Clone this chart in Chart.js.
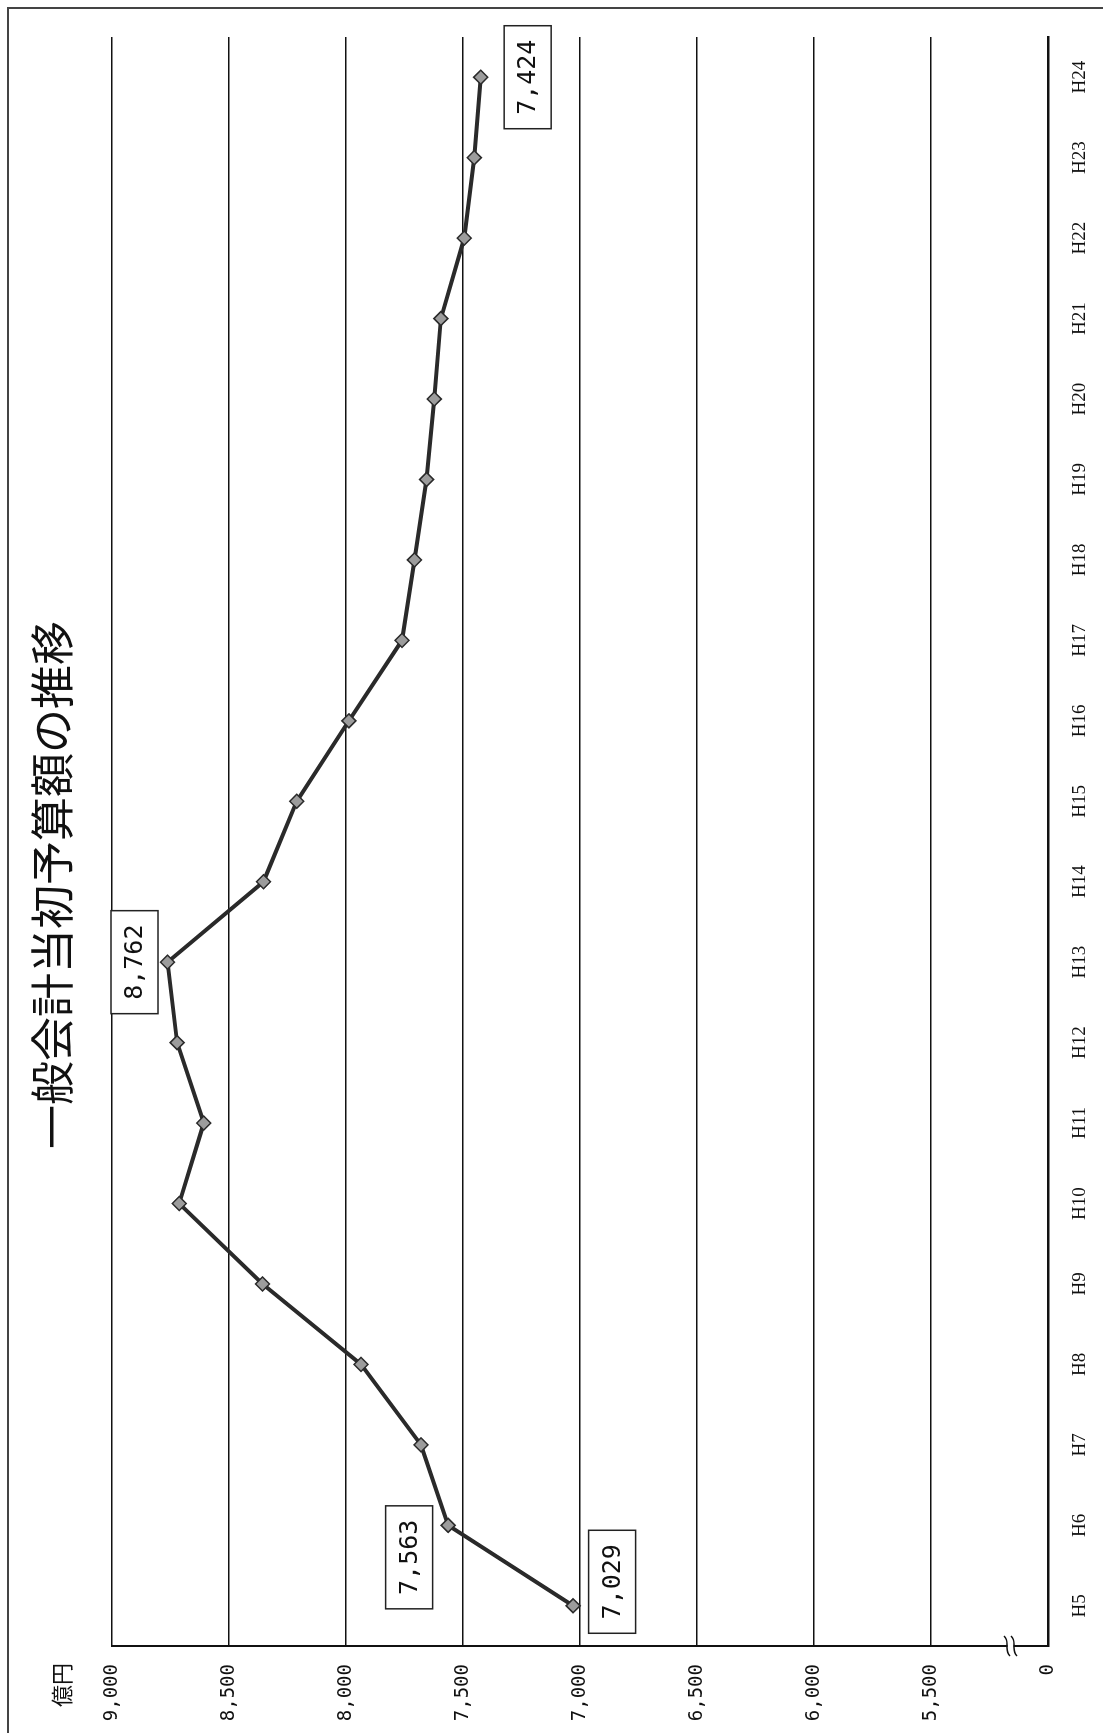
<!DOCTYPE html>
<html lang="ja">
<head>
<meta charset="utf-8">
<title>一般会計当初予算額の推移</title>
<script src="https://cdn.jsdelivr.net/npm/chart.js@4.4.1/dist/chart.umd.min.js"></script>
<style>
  html, body { margin: 0; padding: 0; background: #fff; overflow: hidden; }
  body { width: 1103px; height: 1733px; position: relative; }
  /* the scanned page is turned on its side, so draw it landscape and rotate */
  #page {
    position: absolute; left: 0; top: 0;
    width: 1733px; height: 1103px;
    transform-origin: 0 0;
    transform: translate(0, 1733px) rotate(-90deg);
    background: #fff;
  }
  #frame {
    position: absolute; left: -10px; top: 7px;
    width: 1736px; height: 1200px; box-sizing: border-box;
    border-top: 2px solid #444; border-right: 2px solid #444;
  }
  #budgetChart { position: absolute; left: 0; top: 0; }
</style>
</head>
<body>
<div id="page">
  <div id="frame"></div>
  <canvas id="budgetChart" width="1733" height="1103"></canvas>
</div>
<script>
const years = ['H5', 'H6', 'H7', 'H8', 'H9', 'H10', 'H11', 'H12', 'H13', 'H14',
               'H15', 'H16', 'H17', 'H18', 'H19', 'H20', 'H21', 'H22', 'H23', 'H24'];
const budget = [7029, 7563, 7679, 7935, 8356, 8712, 8607, 8721, 8762, 8352,
                8210, 7987, 7760, 7707, 7655, 7622, 7594, 7494, 7451, 7424];
const labelYears = ['H5', 'H6', 'H13', 'H24'];
const unitLabel = '億円';

const fmt = v => v.toLocaleString('en-US');

// boxed value labels, offsets
const labelShift = { H5: [24, 39], H6: [-32, -39], H13: [0, -33], H24: [0, 47] };

const valueBoxes = {
    id: 'valueBoxes',
    afterDatasetsDraw(chart) {
        const meta = chart.getDatasetMeta(0);
        const ctx = chart.ctx;
        ctx.save();
        ctx.font = '25px "DejaVu Sans Mono", monospace';
        ctx.textAlign = 'center';
        ctx.textBaseline = 'middle';
        labelYears.forEach(yr => {
            const i = years.indexOf(yr);
            const pt = meta.data[i];
            const [dx, dy] = labelShift[yr];
            const cx = pt.x + dx, cy = pt.y + dy;
            const w = 103, h = 47;
            ctx.fillStyle = '#fff';
            ctx.fillRect(cx - w / 2, cy - h / 2, w, h);
            ctx.strokeStyle = '#222';
            ctx.lineWidth = 1.5;
            ctx.strokeRect(cx - w / 2, cy - h / 2, w, h);
            ctx.fillStyle = '#111';
            ctx.fillText(fmt(budget[i]), cx, cy + 1);
        });
        ctx.restore();
    }
};

const extras = {
    id: 'extras',
    afterDraw(chart) {
        const ctx = chart.ctx;
        const area = chart.chartArea;
        ctx.save();
        // unit
        ctx.font = '22px "Noto Sans CJK JP", sans-serif';
        ctx.fillStyle = '#111';
        ctx.textAlign = 'right';
        ctx.textBaseline = 'middle';
        ctx.fillText(unitLabel, area.left - 17, 62);
        // axis break between 0 and 5,500
        const y = chart.scales.y.getPixelForValue(5160);
        const x = area.left;
        ctx.fillStyle = '#fff';
        ctx.fillRect(x - 4, y - 3, 8, 6);
        ctx.strokeStyle = '#111';
        ctx.lineWidth = 1.5;
        [-3.5, 3.5].forEach(off => {
            ctx.beginPath();
            ctx.moveTo(x - 10, y + off + 3);
            ctx.bezierCurveTo(x - 3, y + off - 4, x + 3, y + off + 4, x + 10, y + off - 3);
            ctx.stroke();
        });
        ctx.restore();
    }
};

new Chart(document.getElementById('budgetChart'), {
    type: 'line',
    data: {
        labels: years,
        datasets: [{
            data: budget,
            borderColor: '#2a2a2a',
            borderWidth: 4,
            tension: 0,
            pointStyle: 'rectRot',
            pointRadius: 7,
            pointBackgroundColor: '#9c9c9c',
            pointBorderColor: '#2a2a2a',
            pointBorderWidth: 1.5
        }]
    },
    options: {
        responsive: false,
        animation: false,
        layout: { padding: { left: 0, right: 37, top: 0, bottom: 0 } },
        plugins: {
            legend: { display: false },
            tooltip: { enabled: false },
            title: {
                display: true,
                text: '一般会計当初予算額の推移',
                color: '#111',
                font: { family: '"Noto Sans CJK JP", sans-serif', size: 44, weight: 'normal' },
                padding: { top: 26, bottom: 33 }
            }
        },
        scales: {
            x: {
                offset: true,
                grid: { display: false, drawTicks: false },
                border: { display: true, color: '#111', width: 2.5 },
                ticks: {
                    color: '#111',
                    font: { family: '"Liberation Serif", serif', size: 19 },
                    padding: 21,
                    maxRotation: 0,
                    autoSkip: false
                },
                afterFit(scale) { scale.height = 55; }
            },
            y: {
                min: 5000,
                max: 9000,
                ticks: {
                    stepSize: 500,
                    color: '#111',
                    padding: 18,
                    font: { family: '"DejaVu Sans Mono", monospace', size: 19 },
                    callback: v => v === 5000 ? '0' : fmt(v)
                },
                grid: { color: '#111', lineWidth: 1.5, drawTicks: false },
                border: { color: '#111', width: 2 },
                afterFit(scale) { scale.width = 87; }
            }
        }
    },
    plugins: [valueBoxes, extras]
});
</script>
</body>
</html>
